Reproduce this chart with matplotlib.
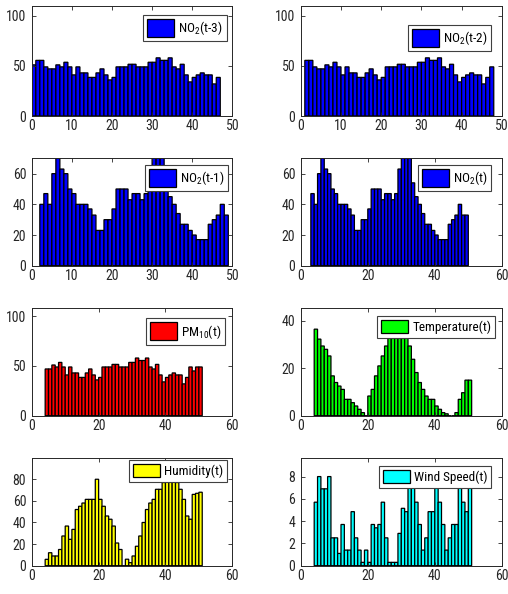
import numpy as np
import matplotlib
matplotlib.use("Agg")
import matplotlib.pyplot as plt
from matplotlib import font_manager

# narrow sans, closest to the MATLAB Helvetica export
installed = {f.name for f in font_manager.fontManager.ttflist}
font = "Roboto Condensed" if "Roboto Condensed" in installed else "Liberation Sans"
plt.rcParams["font.family"] = [font, "DejaVu Sans"]
plt.rcParams["mathtext.fontset"] = "custom"
plt.rcParams["mathtext.rm"] = font
plt.rcParams["mathtext.default"] = "regular"

# bar heights (47 samples per panel)
no2_tm3 = [51, 55.5, 55.5, 49, 47, 47, 51, 49, 53.6, 49, 41, 49, 43, 43, 38.5, 38.5,
           43, 47, 41, 36, 38.5, 49, 49, 49, 51.6, 51.6, 49, 49, 49, 53.6, 53.6, 58,
           55.5, 55.5, 58, 49, 47, 51.6, 41, 34, 38.5, 41, 43, 41, 41, 32, 38.5]
no2_tm2 = [55.5, 55.5, 49, 47, 47, 51, 49, 53.6, 49, 41, 49, 43, 43, 38.5, 38.5, 43,
           47, 41, 36, 38.5, 49, 49, 49, 51.6, 51.6, 49, 49, 49, 53.6, 53.6, 58, 55.5,
           55.5, 58, 49, 47, 51.6, 41, 34, 38.5, 41, 43, 41, 41, 32, 38.5, 49]
no2_tm1 = [40, 47, 40, 60, 72, 63, 60, 50, 47, 40, 40, 40, 37, 33, 23, 23, 30, 30,
           37, 50, 50, 50, 43, 47, 47, 43, 47, 63, 75, 78, 75, 54, 45, 40, 34, 27,
           27, 23, 20, 17, 17, 17, 27, 30, 33, 40, 33]
no2_t = [47, 40, 60, 72, 63, 60, 50, 47, 40, 40, 40, 37, 33, 23, 23, 30, 30, 37,
         50, 50, 50, 43, 47, 47, 43, 47, 63, 75, 78, 75, 54, 45, 40, 34, 27, 27,
         23, 20, 17, 17, 17, 27, 30, 33, 40, 33, 33]
pm10_t = [47, 47, 51, 49, 53.6, 49, 41, 49, 43, 43, 38.5, 38.5, 43, 47, 41, 36, 38.5,
          49, 49, 49, 51.6, 51.6, 49, 49, 49, 53.6, 53.6, 58, 55.5, 55.5, 58, 49, 47,
          51.6, 41, 34, 38.5, 41, 43, 41, 41, 32, 38.5, 49, 45, 49, 49]
temp_t = [36.5, 32.3, 29.4, 28, 25.2, 16.8, 14, 12.5, 11.1, 6.9, 6.9, 5.5, 4.1, 2.7,
          1.3, 0, 8.3, 11.1, 16.8, 21, 25.2, 29.4, 33, 36, 40, 41, 38, 35, 29.4, 23.8,
          18.2, 14, 11.1, 8.3, 6.9, 6.9, 4.1, 2.7, 1.3, 0.8, 0, 0, 1.3, 6.9, 9.7, 15, 15]
hum_t = [5.9, 12, 9, 9, 15, 27.5, 36.7, 24.4, 33.6, 52, 55, 58, 61.4, 61.4, 61.4, 80,
         61.4, 55, 46, 43, 36.7, 21, 15, 0, 6, 2.8, 9, 18, 27.5, 40, 52, 58, 61.4,
         70.7, 70.7, 77, 80, 82, 80, 77, 70.7, 61.4, 46, 43, 66, 67, 68]
wind_t = [5.7, 8, 6.9, 6.9, 8, 2.5, 2.5, 1.1, 3.7, 1.4, 1.4, 4.85, 2.5, 1.4, 0.3, 1.4,
          0.3, 3.7, 3.4, 3.7, 5.7, 2.5, 0.3, 0.3, 0.3, 2.9, 5.15, 4.85, 7.4, 7.4, 5.7,
          3.7, 1.4, 2.5, 4.85, 4.85, 7.4, 5.7, 3.7, 1.4, 2.5, 3.7, 3.7, 7.4, 5.7, 4.85, 7.4]

series = [no2_tm3, no2_tm2, no2_tm1, no2_t, pm10_t, temp_t, hum_t, wind_t]
first_index = [0, 1, 2, 3, 4, 4, 4, 4]
labels = ["NO$_2$(t-3)", "NO$_2$(t-2)", "NO$_2$(t-1)", "NO$_2$(t)",
          "PM$_{10}$(t)", "Temperature(t)", "Humidity(t)", "Wind Speed(t)"]
colors = ["#0000ff"] * 4 + ["#ff0000", "#00ff00", "#ffff00", "#00ffff"]
xlims = [50, 50, 50, 60, 60, 60, 60, 60]
ylims = [110, 110, 70, 70, 108, 45.3, 99.4, 9.64]
yticks = [[0, 50, 100], [0, 50, 100], [0, 20, 40, 60], [0, 20, 40, 60],
          [0, 50, 100], [0, 20, 40], [0, 20, 40, 60, 80], [0, 2, 4, 6, 8]]

W, H = 508, 594
fig = plt.figure(figsize=(W / 100, H / 100), dpi=100)

# axes boxes in pixels: left, top, width, height
col_left = [31.8, 300.8]
col_width = [200.5, 201]
row_top = [5.7, 158.3, 308.3, 458.3]
row_h = [110.3, 107.4, 107.4, 107.4]
# legend upper-right corner offset from axes corner (px)
leg_off = [(5.6, 9.3), (10.4, 19), (4, 6.7), (10.4, 6.7),
           (7.3, 10), (6.7, 7.7), (5.6, 1.7), (10.4, 7.7)]

for i in range(8):
    r, c = divmod(i, 2)
    l, t, w, h = col_left[c], row_top[r], col_width[c], row_h[r]
    ax = fig.add_axes([l / W, 1 - (t + h) / H, w / W, h / H])

    vals = series[i]
    x = first_index[i] + np.arange(len(vals))
    bars = ax.bar(x, vals, width=1, align="edge", color=colors[i],
                  edgecolor="black", linewidth=0.9, label=labels[i])
    for b in bars:
        b.set_snap(False)  # keeps every edge visible at this size

    ax.set_xlim(0, xlims[i])
    ax.set_ylim(0, ylims[i])
    step = 10 if xlims[i] == 50 else 20
    ax.set_xticks(np.arange(0, xlims[i] + 1, step))
    ax.set_yticks(yticks[i])
    ax.tick_params(direction="in", top=True, right=True, length=3, width=0.6,
                   labelsize=10, colors="0.15", pad=2.5)
    ax.tick_params(axis="y", pad=4)
    for sp in ax.spines.values():
        sp.set_color("0.15")
        sp.set_linewidth(0.7)

    dx, dy = leg_off[i]
    sub = "$" in labels[i]
    leg = ax.legend(loc="upper right", bbox_to_anchor=(1 - dx / w, 1 - dy / h),
                    borderaxespad=0, fontsize=9.5, handlelength=2.05,
                    handleheight=1.75 if sub else 1.14, handletextpad=0.3,
                    borderpad=0.3, fancybox=False, framealpha=1)
    leg.get_frame().set_edgecolor("0.25")
    leg.get_frame().set_linewidth(0.8)

fig.savefig("out.png", dpi=100)
